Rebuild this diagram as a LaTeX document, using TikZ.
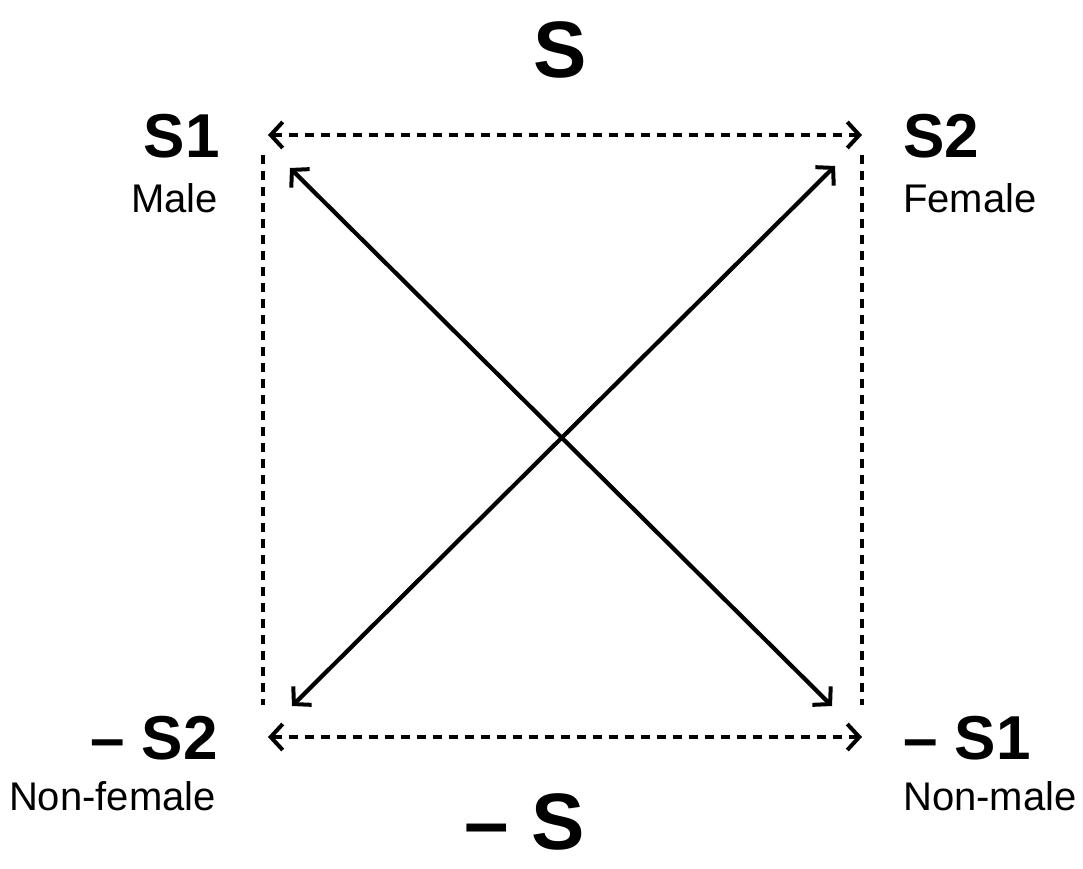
\documentclass[tikz,border=0pt]{standalone}
\usepackage{fontspec}
\setmainfont{Liberation Sans}
\usetikzlibrary{arrows.meta}
\begin{document}
\begin{tikzpicture}[x=1pt,y=-1pt,
  dsh/.style={line width=4.2pt,dash pattern=on 9pt off 7pt},
  sol/.style={line width=4.2pt},
  tip/.style={{Straight Barb[length=12pt,width=26pt,line width=4pt]}-{Straight Barb[length=12pt,width=26pt,line width=4pt]}},
  big/.style={font=\fontsize{80}{80}\selectfont\bfseries,inner sep=0pt},
  mid/.style={font=\fontsize{62}{62}\selectfont\bfseries,inner sep=0pt},
  sm/.style={font=\fontsize{40}{40}\selectfont,inner sep=0pt}]
\useasboundingbox (0,0) rectangle (1083,869);
\node[big] (S) at (560,50) {S};
\node[big] (nS) at (525,822) {– S};
\node[mid,anchor=east] (S1) at (220,136) {S1};
\node[sm,anchor=east] (m) at (218,198) {Male};
\node[mid,anchor=west] (S2) at (903,136) {S2};
\node[sm,anchor=west] (f) at (903,198) {Female};
\node[mid,anchor=east] (nS2) at (218,738) {– S2};
\node[sm,anchor=east] (nf) at (216,796) {Non-female};
\node[mid,anchor=west] (nS1) at (903,738) {– S1};
\node[sm,anchor=west] (nm) at (903,796) {Non-male};
\coordinate (tl) at (268,135); \coordinate (tr) at (862,135);
\coordinate (bl) at (268,737); \coordinate (br) at (862,737);
\coordinate (lt) at (263,155); \coordinate (lb) at (263,705);
\coordinate (rt) at (862,155); \coordinate (rb) at (862,705);
\coordinate (d1a) at (290,168); \coordinate (d1b) at (832,706);
\coordinate (d2a) at (835,166); \coordinate (d2b) at (292,706);
\draw[dsh,tip] (tl) -- (tr);
\draw[dsh,tip] (bl) -- (br);
\draw[dsh] (lt) -- (lb);
\draw[dsh] (rt) -- (rb);
\draw[sol,tip] (d1a) -- (d1b);
\draw[sol,tip] (d2a) -- (d2b);
\end{tikzpicture}
\end{document}
